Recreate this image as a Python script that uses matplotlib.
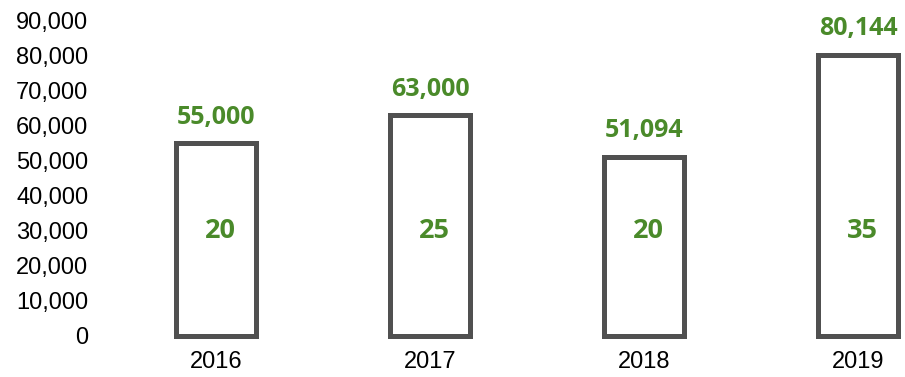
import matplotlib
matplotlib.use("Agg")
import matplotlib.pyplot as plt
import numpy as np

years = ["2016", "2017", "2018", "2019"]
values = [55000, 63000, 51094, 80144]
counts = [20, 25, 20, 35]
yticks = [0, 10000, 20000, 30000, 40000, 50000, 60000, 70000, 80000, 90000]

GREEN = "#4a8a2a"
EDGE = "#505050"

W, H = 905, 377
fig = plt.figure(figsize=(W / 100, H / 100), dpi=100)
left_px, right_px, bottom_px, top_px = 100, 905, 336, 20
ax = fig.add_axes([left_px / W, (H - bottom_px) / H,
                   (right_px - left_px) / W, (bottom_px - top_px) / H])

x = np.arange(len(years))
bars = ax.bar(x, values, width=0.37, facecolor="white", edgecolor=EDGE,
              linewidth=3.6, clip_on=False)

for xi, v in zip(x, values):
    ax.annotate(f"{v:,}", (xi, v), xytext=(0, 9.5), textcoords="offset points",
                ha="center", va="bottom", color=GREEN, fontsize=18,
                fontweight="bold", family="Open Sans")
for xi, c in zip(x, counts):
    ax.text(xi + 0.02, 30000, str(c), ha="center", va="center", color=GREEN,
            fontsize=19.5, fontweight="bold", family="Open Sans")

spacing = 214
c0 = 216
ax.set_xlim((left_px - c0) / spacing, (right_px - c0) / spacing)
ax.set_ylim(0, 90000)
ax.set_yticks(yticks)
ax.set_yticklabels([f"{t:,}" for t in yticks], family="Liberation Sans", fontsize=17)
ax.set_xticks(x)
ax.set_xticklabels(years, family="Liberation Sans", fontsize=17)
ax.tick_params(axis="y", length=0, pad=8.5)
ax.tick_params(axis="x", length=0, pad=11)
for s in ax.spines.values():
    s.set_visible(False)

fig.savefig("out.png", dpi=100)
